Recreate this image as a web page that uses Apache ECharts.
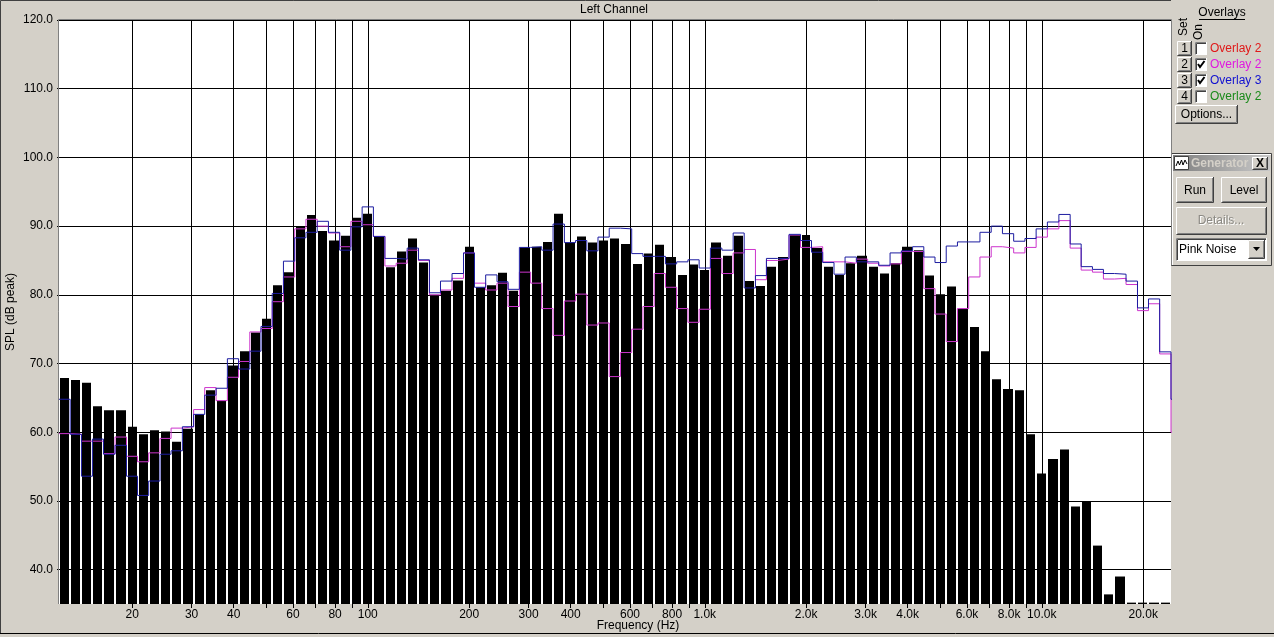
<!DOCTYPE html>
<html><head><meta charset="utf-8">
<script src="https://cdn.jsdelivr.net/npm/echarts@6/dist/echarts.min.js"></script>
<style>html,body{margin:0;padding:0;background:#d4d0c8;overflow:hidden}#c{width:1274px;height:637px}</style>
</head><body><div id="c"></div>
<script>
// 1/30-decade band centre frequencies (Hz)
const bandFreqs = [
  12.6, 13.6, 14.7, 15.8, 17.1, 18.5, 20.0, 21.5, 23.3, 25.1,
  27.1, 29.3, 31.6, 34.1, 36.9, 39.8, 43.0, 46.4, 50.1, 54.1,
  58.4, 63.1, 68.1, 73.6, 79.4, 85.8, 92.6, 100, 108, 117,
  126, 136, 147, 158, 171, 185, 200, 215, 233, 251,
  271, 293, 316, 341, 369, 398, 430, 464, 501, 541,
  584, 631, 681, 736, 794, 858, 926, 1000, 1080, 1170,
  1260, 1360, 1470, 1580, 1710, 1850, 2000, 2150, 2330, 2510,
  2710, 2930, 3160, 3410, 3690, 3980, 4300, 4640, 5010, 5410,
  5840, 6310, 6810, 7360, 7940, 8580, 9260, 10000, 10800, 11700,
  12600, 13600, 14700, 15800, 17100, 18500, 20000, 21500, 23300, 25100
];
// measured SPL (black bars), dB peak
const splBars = [
  67.9, 67.6, 67.2, 63.8, 63.2, 63.2, 60.8, 59.7, 60.3, 60.1,
  58.6, 60.5, 62.6, 66.1, 64.6, 69.7, 71.8, 74.5, 76.5, 81.4,
  83.3, 90.0, 91.6, 89.3, 87.9, 88.6, 91.2, 91.8, 88.4, 84.0,
  86.3, 88.2, 84.7, 80.0, 80.6, 82.1, 87.0, 81.1, 81.4, 83.2,
  80.6, 86.9, 87.0, 87.7, 91.8, 87.6, 88.5, 87.6, 87.9, 88.2,
  87.4, 84.5, 86.0, 87.3, 85.5, 82.9, 84.4, 83.6, 87.6, 85.7,
  88.6, 82.0, 81.3, 84.1, 85.5, 88.7, 88.7, 86.8, 84.1, 82.9,
  84.6, 85.7, 84.1, 83.1, 84.6, 87.0, 86.5, 82.8, 80.1, 81.2,
  78.0, 75.3, 71.8, 67.7, 66.3, 66.1, 59.7, 54.0, 56.1, 57.5,
  49.2, 50.0, 43.5, 36.4, 39.0, 35.2, 35.2, 35.2, 35.2, null
];
// Overlay 2 (magenta step line)
const overlay2 = [
  59.8, 59.7, 58.7, 58.7, 56.9, 59.3, 56.5, 55.7, 57.0, 59.1,
  60.6, 60.8, 63.3, 66.5, 64.6, 68.0, 70.3, 74.6, 75.1, 79.0,
  82.6, 89.6, 91.0, 90.0, 89.0, 87.0, 90.7, 90.2, 88.5, 84.2,
  84.6, 86.5, 85.0, 80.0, 80.7, 82.4, 86.1, 81.7, 80.7, 81.7,
  78.3, 83.3, 81.7, 78.0, 74.1, 79.1, 80.1, 75.6, 75.9, 68.1,
  71.6, 75.0, 78.3, 83.1, 81.1, 78.0, 76.0, 77.9, 85.3, 83.1,
  86.1, 86.6, 82.2, 85.0, 85.2, 88.7, 86.9, 87.0, 84.8, 84.8,
  84.6, 85.2, 84.6, 84.2, 84.5, 86.3, 86.3, 80.9, 77.2, 73.2,
  78.0, 82.6, 85.5, 87.0, 86.8, 86.1, 86.9, 88.4, 89.6, 90.8,
  86.8, 83.6, 83.3, 82.3, 82.4, 81.5, 77.7, 78.7, 71.4, 60.0
];
// Overlay 3 (blue step line)
const overlay3 = [
  64.8, 59.7, 53.6, 59.0, 56.8, 58.1, 53.6, 50.8, 52.9, 56.8,
  57.3, 60.8, 62.6, 65.4, 66.4, 70.7, 69.2, 71.8, 75.4, 80.2,
  84.9, 88.3, 89.1, 90.7, 89.1, 86.5, 89.9, 92.8, 88.5, 85.3,
  85.2, 86.8, 85.1, 80.3, 82.0, 83.1, 86.1, 81.1, 82.9, 81.9,
  80.8, 86.9, 87.0, 86.5, 90.3, 87.6, 87.9, 86.4, 88.4, 89.7,
  89.6, 86.0, 85.6, 85.6, 84.5, 84.8, 85.1, 83.9, 86.8, 86.5,
  89.0, 81.0, 82.8, 85.3, 85.3, 88.8, 87.9, 86.2, 84.7, 83.0,
  85.5, 84.8, 84.8, 84.3, 86.1, 86.4, 87.0, 85.5, 84.7, 87.1,
  87.7, 87.7, 89.1, 90.0, 88.9, 87.8, 88.2, 89.6, 90.6, 91.7,
  87.4, 84.1, 83.7, 83.1, 83.0, 82.0, 78.1, 79.4, 71.7, 64.8
];
// vertical grid lines / ticks and the labelled subset
const gridFreqs = [20,30,40,50,60,70,80,90,100,200,300,400,500,600,700,800,900,
  1000,2000,3000,4000,5000,6000,7000,8000,9000,10000,20000];
const labelFreqs = [20,30,40,60,80,100,200,300,400,600,800,1000,2000,3000,4000,6000,8000,10000,20000];
const yTicks = [40,50,60,70,80,90,100,110,120];
const yMin = 35, yMax = 120;

// band edges (geometric means of neighbouring centres)
const n = bandFreqs.length;
const lo = [], hi = [];
for (let i = 0; i < n; i++) {
  const prev = i > 0 ? bandFreqs[i-1] : bandFreqs[0] * bandFreqs[0] / bandFreqs[1];
  const next = i < n-1 ? bandFreqs[i+1] : bandFreqs[n-1] * bandFreqs[n-1] / bandFreqs[n-2];
  lo.push(Math.sqrt(prev * bandFreqs[i]));
  hi.push(Math.sqrt(next * bandFreqs[i]));
}
const xMin = lo[0];
const xMax = hi[n-2];

const barData = [];
for (let i = 0; i < n; i++) if (splBars[i] != null) barData.push([lo[i], hi[i], splBars[i]]);
function stepData(vals) {
  const d = [];
  for (let i = 0; i < n; i++) { d.push([lo[i], vals[i]]); d.push([hi[i], vals[i]]); }
  return d;
}
function fmtFreq(v) {
  v = Math.round(v);
  return v >= 1000 ? (v/1000).toFixed(1) + 'k' : String(v);
}

const FONT = "'Liberation Sans', Arial, sans-serif";
const BG = '#d4d0c8';
const G = [];
function line(pts, color, w, z) {
  G.push({type:'polyline', silent:true, z:z||50, shape:{points:pts}, style:{stroke:color, lineWidth:w||1, fill:'none'}});
}
function text(x, y, t, opts) {
  opts = opts || {};
  G.push({type:'text', silent:true, z:60, x:x, y:y, rotation: opts.rot || 0,
    style:{text:t, fill:opts.color||'#000', font:(opts.weight||'normal')+' '+(opts.size||12)+'px '+FONT,
      align:opts.align||'left', verticalAlign:'middle'}});
}
function raised(x, y, w, h) {
  G.push({type:'rect', silent:true, z:50, shape:{x:x, y:y, width:w, height:h}, style:{fill:BG}});
  line([[x+0.5,y+h-1],[x+0.5,y+0.5],[x+w-1,y+0.5]], '#ffffff', 1, 51);
  line([[x+0.5,y+h-0.5],[x+w-0.5,y+h-0.5],[x+w-0.5,y]], '#404040', 1, 51);
  line([[x+1.5,y+h-1.5],[x+w-1.5,y+h-1.5],[x+w-1.5,y+1]], '#808080', 1, 51);
}
function sunkenWhite(x, y, w, h) {
  G.push({type:'rect', silent:true, z:50, shape:{x:x, y:y, width:w, height:h}, style:{fill:'#fff'}});
  line([[x+0.5,y+h],[x+0.5,y+0.5],[x+w,y+0.5]], '#808080', 1, 51);
  line([[x+1.5,y+h-1],[x+1.5,y+1.5],[x+w-1,y+1.5]], '#404040', 1, 51);
  line([[x+0.5,y+h-0.5],[x+w-0.5,y+h-0.5],[x+w-0.5,y]], '#ffffff', 1, 51);
}

// window frame
line([[0.5,633],[0.5,0.5],[1171,0.5]], '#404040');
line([[0,633.5],[1274,633.5]], '#000000');
// plot sunken border
line([[58.5,604],[58.5,19.5],[1171.5,19.5],[1171.5,265]], '#808080');

// Overlays panel
text(1222, 13, 'Overlays', {align:'center'});
line([[1199,19.5],[1245,19.5]], '#000');
text(1184, 27, 'Set', {rot: Math.PI/2, align:'center'});
text(1199, 32, 'On', {rot: Math.PI/2, align:'center'});
const ovRows = [
  {y:48, label:'Overlay 2', color:'#e01818', on:false},
  {y:64, label:'Overlay 2', color:'#e018e0', on:true},
  {y:80, label:'Overlay 3', color:'#1010d0', on:true},
  {y:96, label:'Overlay 2', color:'#1a8a1a', on:false}
];
ovRows.forEach((r, i) => {
  raised(1177, r.y-7, 15, 15);
  text(1184.5, r.y+0.5, String(i+1), {align:'center'});
  sunkenWhite(1195, r.y-6, 12, 13);
  if (r.on) line([[1198,r.y],[1200,r.y+3],[1204.5,r.y-3]], '#000', 2, 55);
  text(1210, r.y+0.5, r.label, {color:r.color});
});
raised(1175, 105, 63, 19);
text(1206.5, 114.5, 'Options...', {align:'center'});

// Generator window
G.push({type:'rect', silent:true, z:45, shape:{x:1171.5, y:153.5, width:100, height:112}, style:{fill:BG, stroke:'#404040', lineWidth:1}});
line([[1172.5,265],[1172.5,154.5],[1271,154.5]], '#ffffff', 1, 46);
G.push({type:'rect', silent:true, z:50, shape:{x:1173, y:155, width:97, height:16},
  style:{fill:new echarts.graphic.LinearGradient(0,0,1,0,[{offset:0,color:'#808080'},{offset:1,color:'#c8c8c8'}])}});
G.push({type:'rect', silent:true, z:51, shape:{x:1174.5, y:156.5, width:14, height:13}, style:{fill:'#fff', stroke:'#404040'}});
line([[1176,166],[1178,161],[1179.5,165],[1181.5,160],[1183,165],[1185,160],[1187,164]], '#000', 1, 55);
text(1191, 163.5, 'Generator', {weight:'bold', color:'#d4d0c8'});
raised(1252, 157, 16, 13);
text(1260, 163.5, 'X', {weight:'bold', align:'center'});
raised(1176, 177, 38, 26);
text(1195, 190.5, 'Run', {align:'center'});
raised(1221, 177, 46, 26);
text(1244, 190.5, 'Level', {align:'center'});
raised(1176, 207, 91, 28);
text(1222, 222, 'Details...', {align:'center', color:'#ffffff'});
text(1221, 221, 'Details...', {align:'center', color:'#8c8a84'});
sunkenWhite(1176, 238, 91, 23);
text(1179, 249.5, 'Pink Noise', {});
raised(1248, 240, 17, 19);
G.push({type:'polygon', silent:true, z:60, shape:{points:[[1253,247],[1260,247],[1256.5,251]]}, style:{fill:'#000'}});

const chart = echarts.init(document.getElementById('c'), null, {renderer:'canvas'});
chart.setOption({
  animation: false,
  backgroundColor: BG,
  textStyle: {fontFamily: FONT},
  title: {text:'Left Channel', left:614, top:4, padding:0, textAlign:'center',
    textStyle:{fontSize:12, fontWeight:'normal', color:'#000', fontFamily:FONT}},
  grid: {left:59, top:20, width:1112, height:584, show:true, backgroundColor:'#ffffff', borderWidth:0,
    containLabel:false, outerBoundsMode:'none'},
  xAxis: {
    type:'log', logBase:10, min:xMin, max:xMax,
    axisLine:{show:false},
    axisTick:{show:true, customValues:gridFreqs, length:4, lineStyle:{color:'#000', width:1}},
    axisLabel:{customValues:labelFreqs, formatter:fmtFreq, margin:5, color:'#000', fontSize:12, fontFamily:FONT},
    splitLine:{show:true, lineStyle:{color:'#000', width:1}},
    minorTick:{show:false}, minorSplitLine:{show:false},
    name:'Frequency (Hz)', nameLocation:'middle', nameGap:16, nameMoveOverlap:false,
    nameTextStyle:{color:'#000', fontSize:12, fontFamily:FONT, padding:[0,0,0,46]}
  },
  yAxis: {
    type:'value', min:yMin, max:yMax,
    axisLine:{show:false},
    axisTick:{show:true, customValues:yTicks, length:2, lineStyle:{color:'#000'}},
    axisLabel:{customValues:yTicks, formatter:v => Number(v).toFixed(1), margin:6, color:'#000', fontSize:12, fontFamily:FONT},
    splitLine:{show:true, lineStyle:{color:'#000', width:1}},
    name:'SPL (dB peak)', nameLocation:'middle', nameGap:42, nameMoveOverlap:false,
    nameTextStyle:{color:'#000', fontSize:12, fontFamily:FONT}
  },
  series: [
    {
      type:'custom', name:'SPL', silent:true, z:2, clip:true,
      data: barData,
      encode:{x:[0,1], y:2},
      renderItem: function (params, api) {
        const p0 = api.coord([api.value(0), api.value(2)]);
        const p1 = api.coord([api.value(1), yMin]);
        const x0 = Math.round(p0[0]), x1 = Math.round(p1[0]);
        return {type:'rect', shape:{x:x0+1, y:p0[1], width:Math.max(1, x1-x0-2), height:p1[1]-p0[1]},
          style:{fill:'#000'}};
      }
    },
    {type:'line', name:'Overlay 2', data:stepData(overlay2), symbol:'none', silent:true, z:3, clip:true,
      lineStyle:{color:'#cc33cc', width:1}},
    {type:'line', name:'Overlay 3', data:stepData(overlay3), symbol:'none', silent:true, z:4, clip:true,
      lineStyle:{color:'#1c1ca0', width:1}}
  ],
  graphic: {elements: G}
});
</script>
</body></html>
